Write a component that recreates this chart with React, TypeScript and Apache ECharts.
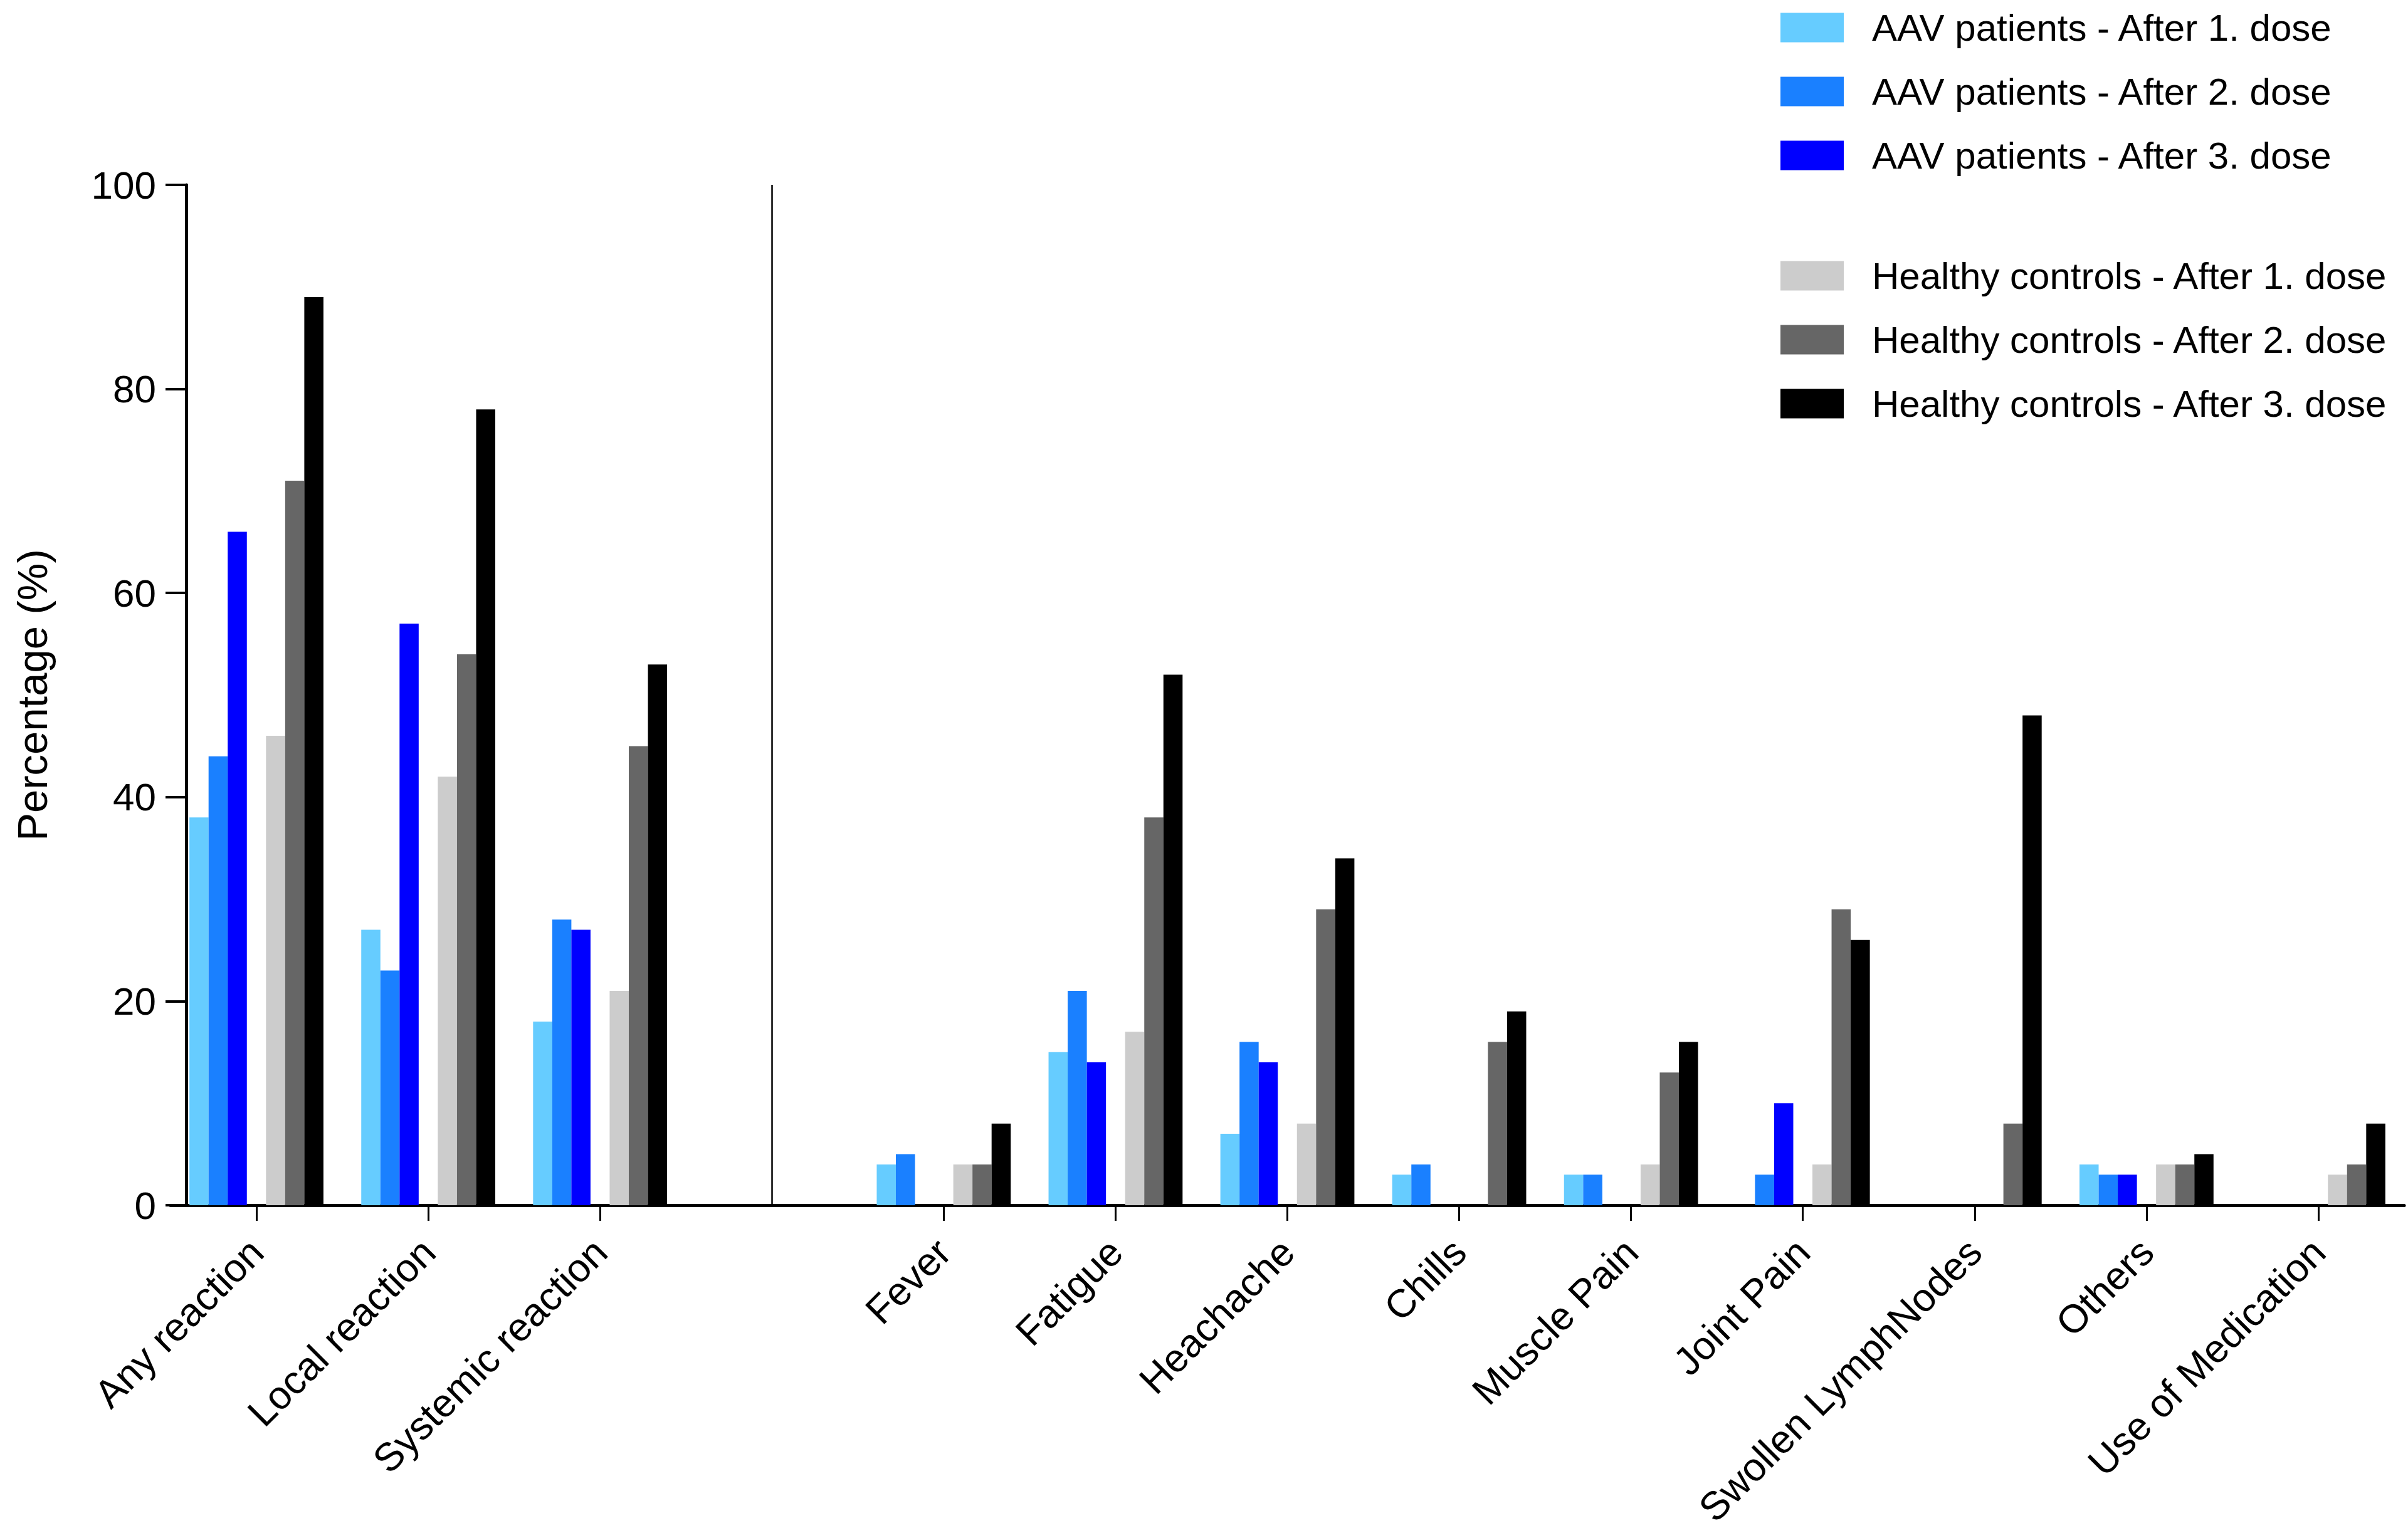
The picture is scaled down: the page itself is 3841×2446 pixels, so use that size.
import React, { useEffect, useRef } from "react";
import * as echarts from "echarts";

const categories = [
  "Any reaction",
  "Local reaction",
  "Systemic reaction",
  " ",
  "Fever",
  "Fatigue",
  "Heachache",
  "Chills",
  "Muscle Pain",
  "Joint Pain",
  "Swollen LymphNodes",
  "Others",
  "Use of Medication",
];

const aavDose1 = [38, 27, 18, null, 4, 15, 7, 3, 3, 0, 0, 4, 0];
const aavDose2 = [44, 23, 28, null, 5, 21, 16, 4, 3, 3, 0, 3, 0];
const aavDose3 = [66, 57, 27, null, 0, 14, 14, 0, 0, 10, 0, 3, 0];
const hcDose1 = [46, 42, 21, null, 4, 17, 8, 0, 4, 4, 0, 4, 3];
const hcDose2 = [71, 54, 45, null, 4, 38, 29, 16, 13, 29, 8, 4, 4];
const hcDose3 = [89, 78, 53, null, 8, 52, 34, 19, 16, 26, 48, 5, 8];
const gapValues = [null, null, null, null, null, null, null, null, null, null, null, null, null];

const aavNames = [
  "AAV patients - After 1. dose",
  "AAV patients - After 2. dose",
  "AAV patients - After 3. dose",
];
const hcNames = [
  "Healthy controls - After 1. dose",
  "Healthy controls - After 2. dose",
  "Healthy controls - After 3. dose",
];
const aavColors = ["#66CCFF", "#1A80FF", "#0000FF"];
const hcColors = ["#CCCCCC", "#666666", "#000000"];

const yTicks = { min: 0, max: 100, interval: 20 };

const FONT = "'Liberation Sans', Arial, Helvetica, sans-serif";

export default function App() {
  const ref = useRef<HTMLDivElement>(null);

  useEffect(() => {
    if (!ref.current) return;
    const chart = echarts.init(ref.current, null, { renderer: "svg" });

    const barCommon = {
      type: "bar",
      barGap: "0%",
      barCategoryGap: "22%",
      silent: true,
    };

    const legendCommon = {
      orient: "vertical",
      left: 2835,
      itemWidth: 101,
      itemHeight: 47,
      itemGap: 42,
      icon: "rect",
      selectedMode: false,
      textStyle: {
        fontSize: 60,
        color: "#000",
        fontFamily: FONT,
        padding: [0, 0, 0, 40],
      },
    };

    const option = {
      animation: false,
      backgroundColor: "#ffffff",
      textStyle: { fontFamily: FONT },
      legend: [
        { ...legendCommon, top: 9, data: aavNames },
        { ...legendCommon, top: 405, data: hcNames },
      ],
      grid: { left: 272, right: 6, top: 295, bottom: 523, containLabel: false },
      xAxis: {
        type: "category",
        data: categories,
        axisLine: { show: true, lineStyle: { color: "#000", width: 5 } },
        axisTick: {
          show: true,
          alignWithLabel: true,
          length: 25,
          lineStyle: { color: "#000", width: 3 },
          interval: (i: number, v: string) => v.trim() !== "",
        },
        axisLabel: {
          interval: 0,
          rotate: 45,
          margin: 64,
          fontSize: 63,
          color: "#000",
          fontFamily: FONT,
        },
        splitLine: { show: false },
      },
      yAxis: {
        type: "value",
        min: yTicks.min,
        max: yTicks.max,
        interval: yTicks.interval,
        offset: -25,
        name: "Percentage (%)",
        nameLocation: "middle",
        nameGap: 212,
        nameTextStyle: { fontSize: 67, color: "#000", fontFamily: FONT },
        axisLine: { show: true, lineStyle: { color: "#000", width: 5 } },
        axisTick: { show: true, length: 33, lineStyle: { color: "#000", width: 4 } },
        axisLabel: { margin: 48, fontSize: 62, color: "#000", fontFamily: FONT },
        splitLine: { show: false },
      },
      series: [
        { ...barCommon, name: aavNames[0], data: aavDose1, itemStyle: { color: aavColors[0] } },
        { ...barCommon, name: aavNames[1], data: aavDose2, itemStyle: { color: aavColors[1] } },
        { ...barCommon, name: aavNames[2], data: aavDose3, itemStyle: { color: aavColors[2] } },
        {
          ...barCommon,
          name: "gap",
          data: gapValues,
          itemStyle: { color: "transparent" },
          markLine: {
            silent: true,
            symbol: ["none", "none"],
            label: { show: false },
            lineStyle: { color: "#000", width: 2.5, type: "solid" },
            data: [{ xAxis: 3 }],
          },
        },
        { ...barCommon, name: hcNames[0], data: hcDose1, itemStyle: { color: hcColors[0] } },
        { ...barCommon, name: hcNames[1], data: hcDose2, itemStyle: { color: hcColors[1] } },
        { ...barCommon, name: hcNames[2], data: hcDose3, itemStyle: { color: hcColors[2] } },
      ],
    };

    chart.setOption(option as any);
    return () => chart.dispose();
  }, []);

  return (
    <div
      ref={ref}
      style={{ position: "fixed", left: 0, top: 0, width: 3841, height: 2446, background: "#fff" }}
    />
  );
}
